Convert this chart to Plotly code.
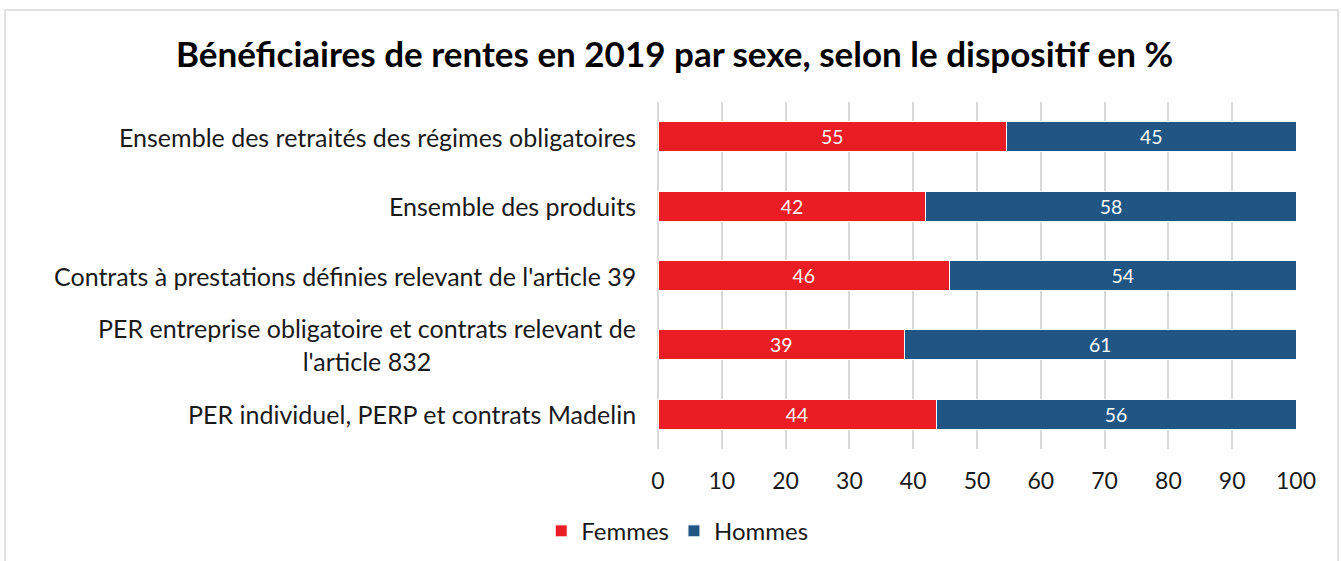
import plotly.graph_objects as go

# ── data ──────────────────────────────────────────────────────────────────────
CATEGORIES = [
    "Ensemble des retraités des régimes obligatoires",
    "Ensemble des produits",
    "Contrats à prestations définies relevant de l'article 39",
    "PER entreprise obligatoire et contrats relevant de<br>l'article 832",
    "PER individuel, PERP et contrats Madelin",
]
FEMMES = [54.6, 42.0, 45.7, 38.6, 43.6]
HOMMES = [45.4, 58.0, 54.3, 61.4, 56.4]
X_TICKS = [0, 10, 20, 30, 40, 50, 60, 70, 80, 90, 100]

# ── palette ───────────────────────────────────────────────────────────────────
RED = "#EA1D25"
BLUE = "#215583"
GRID = "#D9D9D9"
FONT = "Lato, 'Open Sans', sans-serif"

fig = go.Figure()

for name, vals, col in [("Femmes", FEMMES, RED), ("Hommes", HOMMES, BLUE)]:
    fig.add_trace(go.Bar(
        y=CATEGORIES, x=vals, name=name, orientation="h",
        marker=dict(color=col, line=dict(color="white", width=1)),
        text=[f"{v:.0f}" for v in vals], textposition="inside",
        insidetextanchor="middle", textangle=0,
        textfont=dict(color="white", size=22, family=FONT),
        hoverinfo="x+name",
    ))

# category labels as annotations so the wrapped label is centred
for cat in CATEGORIES:
    fig.add_annotation(
        x=0, y=cat, xref="x", yref="y", text=cat, showarrow=False,
        xanchor="right", align="center", xshift=-20,
        font=dict(size=25, color="#1a1a1a", family=FONT),
    )

# outer frame
fig.add_shape(type="rect", xref="paper", yref="paper",
              x0=-1.0235, x1=1.066, y0=-0.45, y1=1.265,
              line=dict(color="#D9D9D9", width=1.5), layer="below")

fig.update_layout(
    width=1341, height=561,
    paper_bgcolor="white", plot_bgcolor="white",
    barmode="stack", bargap=0.57,
    margin=dict(l=658, r=45, t=102, b=112),
    title=dict(
        text="<b>Bénéficiaires de rentes en 2019 par sexe, selon le dispositif en %</b>",
        x=0.503, xref="container", xanchor="center",
        y=0.902, yref="container", yanchor="middle",
        font=dict(size=35, color="black", family=FONT),
    ),
    font=dict(family=FONT, size=22, color="#1a1a1a"),
    legend=dict(
        orientation="h", x=0.505, xref="container", xanchor="center",
        y=0.053, yref="container", yanchor="middle",
        font=dict(size=24), itemwidth=30, traceorder="normal",
    ),
    showlegend=True,
)
fig.update_xaxes(
    range=[0, 100], tickvals=X_TICKS, showgrid=True, gridcolor=GRID,
    gridwidth=1.5, zeroline=True, zerolinecolor=GRID, zerolinewidth=1.5,
    ticklabelstandoff=16, tickfont=dict(size=23), fixedrange=True,
)
fig.update_yaxes(autorange="reversed", showticklabels=False, showgrid=False)

fig.write_html("out.html", config={"displayModeBar": False},
               post_script="document.body.style.margin='0';")
